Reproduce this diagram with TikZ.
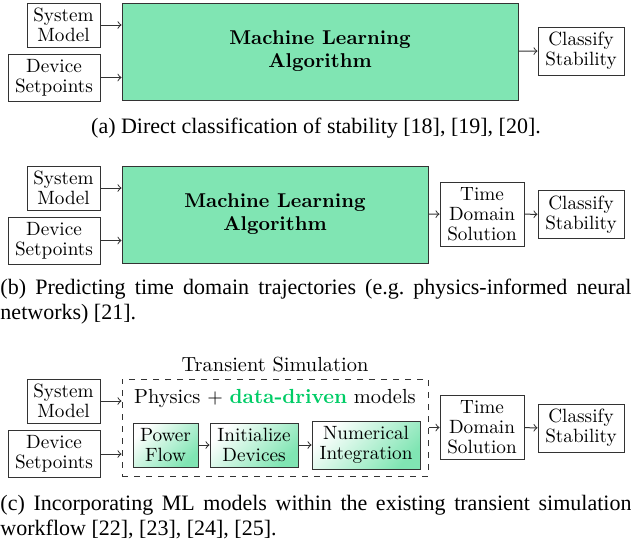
\documentclass[tikz,border=0pt]{standalone}
\usepackage{fontspec}
\newfontfamily\capfont{Liberation Serif}
\usepackage{xcolor}
\usepackage{tikz}

\definecolor{mlgreen}{RGB}{128,229,179}
\definecolor{ddgreen}{RGB}{0,204,102}

\begin{document}
\begin{tikzpicture}[x=0.5pt,y=-0.5pt, line width=0.5pt,
  box/.style={draw=black!80, align=center, inner sep=0pt, font=\fontsize{9.6}{10}\selectfont},
  sysbox/.style={box, minimum width=36.5pt, minimum height=22pt},
  devbox/.style={box, minimum width=46pt, minimum height=23.5pt},
  clsbox/.style={box, minimum width=43pt, minimum height=24pt},
  tdbox/.style={box, minimum width=42pt, minimum height=32pt},
  mlbox/.style={draw=black!80, fill=mlgreen, align=center, inner sep=0pt, minimum height=48.5pt, font=\fontsize{10}{11.5}\selectfont\bfseries},
  stepbox/.style={box, top color=white, bottom color=mlgreen, shading angle=45},
  link/.style={->, draw=black!80},
  captext/.style={font=\capfont\fontsize{11}{12.5}\selectfont, inner sep=0pt}]

\useasboundingbox (0,0) rectangle (631,541);

% (a) direct classification
\node[sysbox] (sysA) at (63.5,25) {System\\Model};
\node[devbox] (devA) at (54,77.5) {Device\\Setpoints};
\node[mlbox, minimum width=198pt] (mlA) at (320,51.5) {Machine Learning\\Algorithm};
\node[clsbox] (clsA) at (581,51) {Classify\\Stability};
\draw[link] (sysA) -- (sysA -| mlA.west);
\draw[link] (devA) -- (devA -| mlA.west);
\draw[link] (mlA) -- (clsA);
\node[captext] (capA) at (316,128) {(a) Direct classification of stability [18], [19], [20].};

% (b) time domain trajectories
\node[sysbox] (sysB) at (63.5,188) {System\\Model};
\node[devbox] (devB) at (54,240.5) {Device\\Setpoints};
\node[mlbox, minimum width=153pt] (mlB) at (275,214.5) {Machine Learning\\Algorithm};
\node[tdbox] (tdB) at (482,214) {Time\\Domain\\Solution};
\node[clsbox] (clsB) at (581,214.5) {Classify\\Stability};
\draw[link] (sysB) -- (sysB -| mlB.west);
\draw[link] (devB) -- (devB -| mlB.west);
\draw[link] (mlB) -- (tdB);
\draw[link] (tdB) -- (clsB);
\node[captext, text width=315.5pt, align=justify, anchor=north west] (capB) at (0,279)
  {(b) Predicting time domain trajectories (e.g.\ physics-informed neural\linebreak networks) [21].};

% (c) ML inside the transient simulation
\node[font=\fontsize{10.2}{12}\selectfont] (simT) at (275,365) {Transient Simulation};
\node[draw=black!80, dashed, minimum width=153pt, minimum height=48.5pt] (sim) at (275,427.5) {};
\node[font=\fontsize{10.2}{12}\selectfont] (phys) at (275,399) {Physics $+$ \textcolor{ddgreen}{\textbf{data-driven}} models};
\node[stepbox, minimum width=32.5pt, minimum height=22pt] (pf) at (165.5,445) {Power\\Flow};
\node[stepbox, minimum width=44pt, minimum height=22pt] (init) at (254,445) {Initialize\\Devices};
\node[stepbox, minimum width=54pt, minimum height=24pt] (num) at (366,445) {Numerical\\Integration};
\node[sysbox] (sysC) at (63.5,401) {System\\Model};
\node[devbox] (devC) at (54,454) {Device\\Setpoints};
\node[tdbox] (tdC) at (482,427.5) {Time\\Domain\\Solution};
\node[clsbox] (clsC) at (581,428) {Classify\\Stability};
\draw[link] (sysC) -- (sysC -| sim.west);
\draw[link] (devC) -- (devC -| sim.west);
\draw[link] (pf) -- (init);
\draw[link] (init) -- (num);
\draw[link] (sim) -- (tdC);
\draw[link] (tdC) -- (clsC);
\node[captext, text width=315.5pt, align=justify, anchor=north west] (capC) at (0,495)
  {(c) Incorporating ML models within the existing transient simulation\linebreak workflow [22], [23], [24], [25].};

\end{tikzpicture}
\end{document}
